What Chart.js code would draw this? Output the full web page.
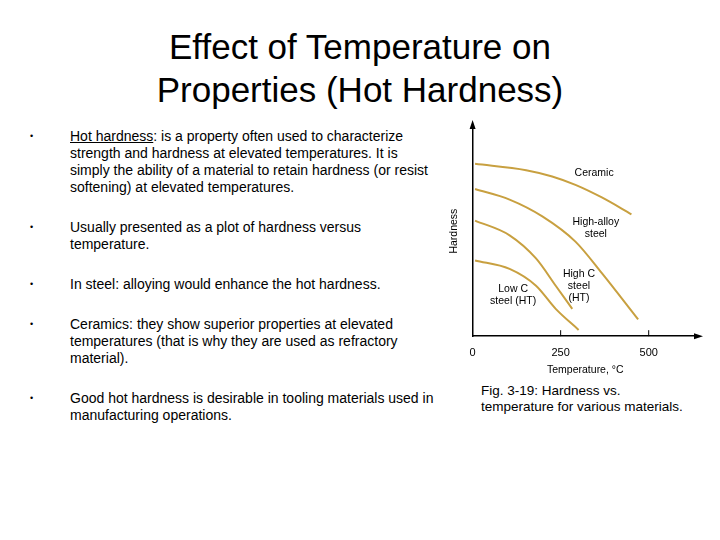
<!DOCTYPE html>
<html>
<head>
<meta charset="utf-8">
<script src="https://cdn.jsdelivr.net/npm/chart.js@4"></script>
<style>
  body { margin: 0; width: 720px; height: 540px; background: #fff; position: relative; font-family: "Liberation Sans", Arial, sans-serif; overflow: hidden; }
  h1 { position: absolute; left: 0; width: 720px; top: 25px; margin: 0; text-align: center; font-weight: normal; font-size: 35px; line-height: 43px; color: #000; }
  .bullets { position: absolute; left: 30px; top: 128px; width: 405px; font-size: 14px; line-height: 17px; color: #000; }
  .b { position: relative; padding-left: 40px; }
  .b::before { content: "•"; position: absolute; left: 0; font-size: 9px; }
  .cap { position: absolute; left: 481px; top: 383px; font-size: 13.5px; line-height: 16px; }
  #wrap { position: absolute; left: 440px; top: 118px; width: 265px; height: 262px; }
</style>
</head>
<body>
<h1>Effect of Temperature on<br>Properties (Hot Hardness)</h1>
<div class="bullets">
  <div class="b"><u>Hot hardness</u>: is a property often used to characterize strength and hardness at elevated temperatures. It is simply the ability of a material to retain hardness (or resist softening) at elevated temperatures.</div>
  <div class="b" style="margin-top:23px">Usually presented as a plot of hardness versus temperature.</div>
  <div class="b" style="margin-top:23px">In steel: alloying would enhance the hot hardness.</div>
  <div class="b" style="margin-top:23px">Ceramics: they show superior properties at elevated temperatures (that is why they are used as refractory material).</div>
  <div class="b" style="margin-top:23px">Good hot hardness is desirable in tooling materials used in manufacturing operations.</div>
</div>
<div class="cap">Fig. 3-19: Hardness vs.<br>temperature for various materials.</div>
<div id="wrap"><canvas id="c"></canvas></div>
<script>
// curve data (temperature °C, relative hardness)
const ceramicT = [7, 152, 226, 292, 367, 451];
const ceramicH = [82, 79, 76, 72, 66, 58];
const alloyT = [7, 105, 198, 292, 367, 470];
const alloyH = [70, 65, 57, 45, 30, 8];
const highCT = [7, 105, 180, 236, 283];
const highCH = [55, 48, 37, 24, 13];
const lowCT = [7, 105, 180, 236, 301];
const lowCH = [36, 32, 24, 13, 3];
const xTicks = [0, 250, 500];

// curve labels: text lines and data position
const labels = [
  { lines: ['Ceramic'], t: 345, h: 76 },
  { lines: ['High-alloy', 'steel'], t: 350, h: 53 },
  { lines: ['High C', 'steel', '(HT)'], t: 302, h: 28 },
  { lines: ['Low C', 'steel (HT)'], t: 115, h: 21 }
];

const pts = (ts, hs) => ts.map((t, i) => ({ x: t, y: hs[i] }));
const curve = (ts, hs) => ({ data: pts(ts, hs), borderColor: '#c8a040', borderWidth: 2, pointRadius: 0, cubicInterpolationMode: 'monotone', fill: false });

const extras = {
  id: 'extras',
  afterDraw(chart) {
    const ctx = chart.ctx, x = chart.scales.x, y = chart.scales.y;
    const a = chart.chartArea;
    ctx.save();
    ctx.fillStyle = '#000'; ctx.strokeStyle = '#000'; ctx.lineWidth = 1;
    // arrow heads
    ctx.beginPath(); ctx.moveTo(a.left, a.top - 6); ctx.lineTo(a.left - 3, a.top + 3); ctx.lineTo(a.left + 3, a.top + 3); ctx.fill();
    ctx.beginPath(); ctx.moveTo(a.right + 5, a.bottom); ctx.lineTo(a.right - 4, a.bottom - 3); ctx.lineTo(a.right - 4, a.bottom + 3); ctx.fill();
    // small upward ticks
    [250, 500].forEach(v => {
      const px = x.getPixelForValue(v);
      ctx.beginPath(); ctx.moveTo(px, a.bottom); ctx.lineTo(px, a.bottom - 6); ctx.stroke();
    });
    ctx.font = '10.5px "Liberation Sans", Arial';
    ctx.textAlign = 'center';
    labels.forEach(l => {
      const px = x.getPixelForValue(l.t), py = y.getPixelForValue(l.h);
      l.lines.forEach((s, i) => ctx.fillText(s, px, py + i * 12));
    });
    ctx.restore();
  }
};

new Chart(document.getElementById('c'), {
  type: 'line',
  data: { datasets: [curve(ceramicT, ceramicH), curve(alloyT, alloyH), curve(highCT, highCH), curve(lowCT, lowCH)] },
  plugins: [extras],
  options: {
    responsive: true, maintainAspectRatio: false, animation: false,
    layout: { padding: { top: 8, right: 7, left: 4 } },
    plugins: { legend: { display: false }, tooltip: { enabled: false } },
    scales: {
      x: {
        type: 'linear', min: 0, max: 640,
        afterBuildTicks: s => { s.ticks = xTicks.map(v => ({ value: v })); },
        grid: { display: false },
        border: { color: '#000', width: 1.5 },
        ticks: { color: '#000', font: { size: 11, family: '"Liberation Sans", Arial' }, padding: 2, maxRotation: 0 },
        title: { display: true, text: 'Temperature, °C', color: '#000', font: { size: 10.5, family: '"Liberation Sans", Arial' }, padding: { top: 2 } }
      },
      y: {
        min: 0, max: 100,
        grid: { display: false },
        border: { color: '#000', width: 1.5 },
        ticks: { display: false },
        title: { display: true, text: 'Hardness', color: '#000', font: { size: 10.5, family: '"Liberation Sans", Arial' }, padding: { bottom: 4 } }
      }
    }
  }
});
</script>
</body>
</html>
